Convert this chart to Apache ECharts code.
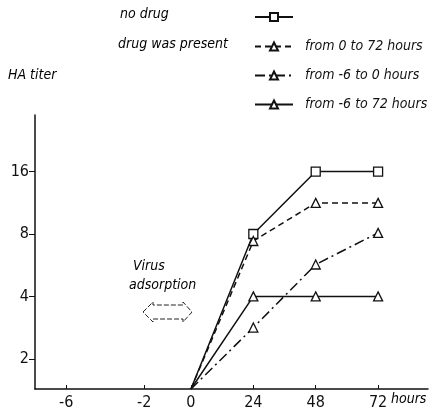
<!DOCTYPE html>
<html><head><meta charset="utf-8">
<script src="https://cdn.jsdelivr.net/npm/echarts@6/dist/echarts.min.js"></script>
<style>html,body{margin:0;padding:0;background:#fff}#c{width:432px;height:414px}</style>
</head><body><div id="c"></div>
<script>
// x-axis: tick labels and their (non-uniform) slot positions on the drawn axis
const xLabels = ['-6', '-2', '0', '24', '48', '72'];
const xSlots  = [-2, -0.75, 0, 1, 2, 3];
// hours of measurement for the curves
const hours = ['0', '24', '48', '72'];
// y tick labels (HA titer, log2 scale)
const yTicks = [2, 4, 8, 16];
// baseline value at the origin of the axes
const base = 1.43;
// series values
const noDrug    = [base, 8, 16, 16];
const from0to72 = [base, 7.4, 11.3, 11.3];
const fromM6to0 = [base, 2.83, 5.7, 8.1];
const fromM6to72= [base, 4, 4, 4];

const slotOf = h => xSlots[xLabels.indexOf(h)];
const pts = vals => hours.map((h, i) => i === 0
  ? {value: [slotOf(h), vals[i]], symbol: 'none'}
  : {value: [slotOf(h), vals[i]]});

const font = "'Liberation Sans Narrow','DejaVu Sans Condensed',sans-serif";
const ital = {fontFamily: font, fontStyle: 'italic', fontSize: 14, color: '#111'};

function mk(name, vals, symbol, type) {
  return {
    name, type: 'line', data: pts(vals), symbol, symbolSize: 9,
    showSymbol: true,
    itemStyle: {color: '#fff', borderColor: '#111', borderWidth: 1.3},
    lineStyle: {color: '#111', width: 1.5, type},
    emphasis: {disabled: true}, animation: false, z: 3
  };
}

const chart = echarts.init(document.getElementById('c'));
chart.setOption({
  backgroundColor: '#fff',
  animation: false,
  grid: {left: 35, right: 4, top: 115, bottom: 25, containLabel: false},
  legend: [
    {data: ['no drug'], left: 249, top: 7, orient: 'vertical', itemWidth: 38, itemHeight: 10,
     formatter: () => '', textStyle: ital, selectedMode: false},
    {data: ['from 0 to 72 hours', 'from -6 to 0 hours', 'from -6 to 72 hours'],
     left: 249, top: 34, orient: 'vertical', itemWidth: 38, itemHeight: 10, itemGap: 14,
     textStyle: Object.assign({lineHeight: 15, padding: [0, 0, 0, 7]}, ital), selectedMode: false}
  ],
  xAxis: {
    type: 'value', min: -2.5, max: 3.8,
    axisLine: {lineStyle: {color: '#111', width: 1.5}},
    splitLine: {show: false},
    axisTick: {show: true, inside: true, length: 4, customValues: xSlots, lineStyle: {color: '#111'}},
    axisLabel: {customValues: xSlots, formatter: v => xLabels[xSlots.indexOf(v)] ?? '',
      fontFamily: font, fontSize: 16, color: '#111', margin: 6}
  },
  yAxis: {
    type: 'log', logBase: 2, min: base, max: 30,
    axisLine: {show: true, onZero: false, lineStyle: {color: '#111', width: 1.5}},
    splitLine: {show: false},
    axisTick: {show: true, length: 6, customValues: yTicks, lineStyle: {color: '#111'}},
    axisLabel: {customValues: yTicks, fontFamily: font, fontSize: 16, color: '#111', margin: 6}
  },
  graphic: [
    {type: 'text', left: 120, top: 7, style: Object.assign({text: 'no drug'}, ital)},
    {type: 'text', left: 118, top: 37, style: Object.assign({text: 'drug was present'}, ital)},
    {type: 'text', left: 8, top: 68, style: Object.assign({text: 'HA titer'}, ital)},
    {type: 'text', left: 391, top: 392, style: Object.assign({text: 'hours'}, ital)},
    {type: 'text', left: 133, top: 259, style: Object.assign({text: 'Virus'}, ital)},
    {type: 'text', left: 129, top: 278, style: Object.assign({text: 'adsorption'}, ital)},
    {type: 'polygon', shape: {points: [[143,312],[153,302],[153,305],[183,305],[183,302],[192,312],[183,322],[183,319],[153,319],[153,322]]},
     style: {fill: 'none', stroke: '#222', lineWidth: 1, lineDash: [5, 2]}}
  ],
  series: [
    mk('no drug', noDrug, 'rect', 'solid'),
    mk('from 0 to 72 hours', from0to72, 'triangle', [6, 4]),
    mk('from -6 to 0 hours', fromM6to0, 'triangle', [10, 4, 2, 4]),
    mk('from -6 to 72 hours', fromM6to72, 'triangle', 'solid')
  ]
});
</script></body></html>
